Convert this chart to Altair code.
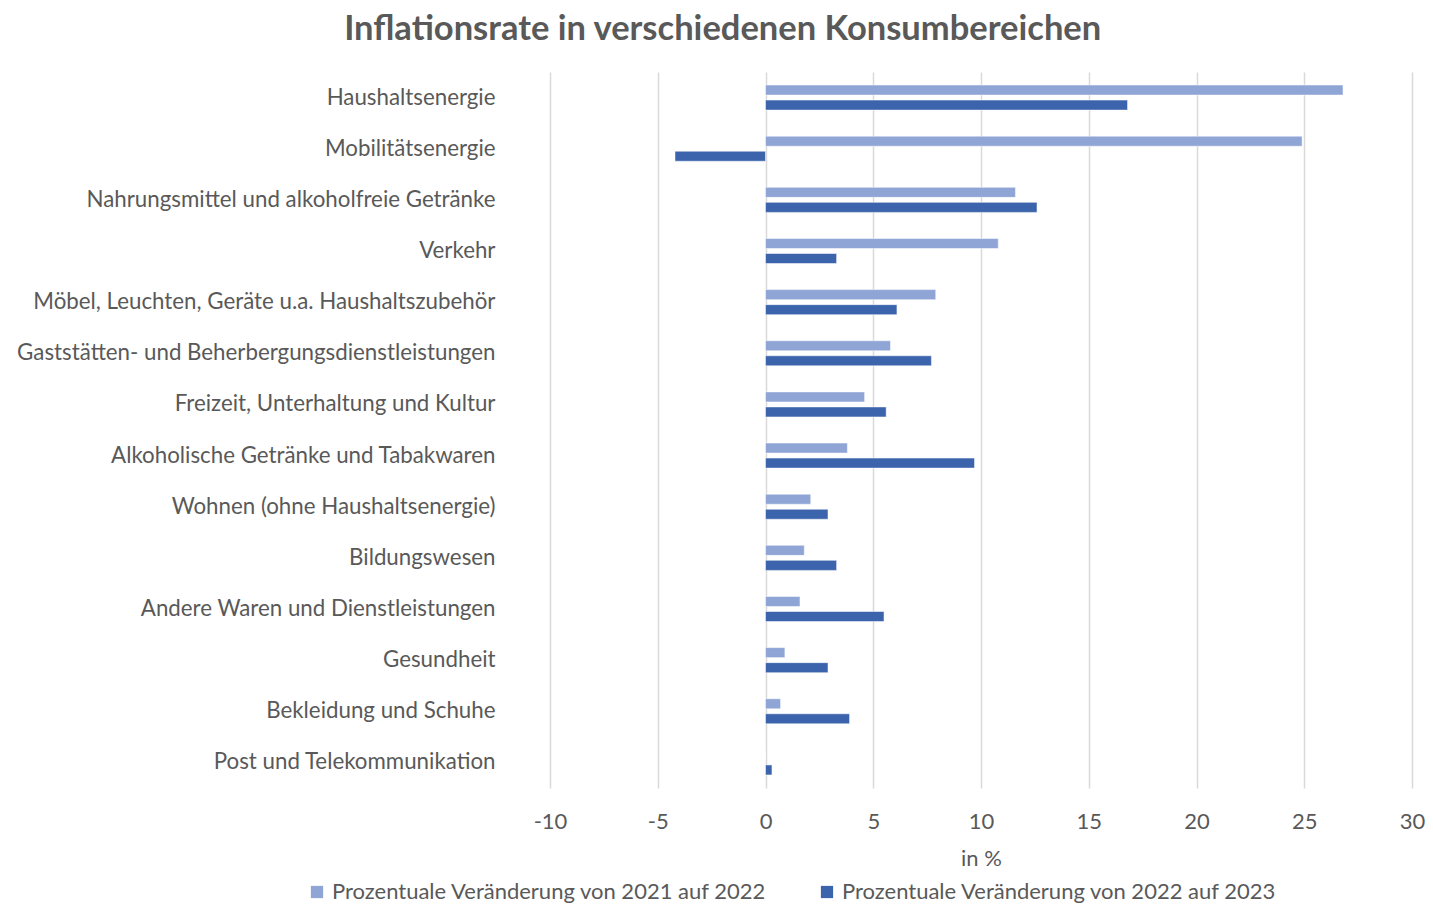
import altair as alt
import pandas as pd

categories = [
    "Haushaltsenergie",
    "Mobilitätsenergie",
    "Nahrungsmittel und alkoholfreie Getränke",
    "Verkehr",
    "Möbel, Leuchten, Geräte u.a. Haushaltszubehör",
    "Gaststätten- und Beherbergungsdienstleistungen",
    "Freizeit, Unterhaltung und Kultur",
    "Alkoholische Getränke und Tabakwaren",
    "Wohnen (ohne Haushaltsenergie)",
    "Bildungswesen",
    "Andere Waren und Dienstleistungen",
    "Gesundheit",
    "Bekleidung und Schuhe",
    "Post und Telekommunikation",
]
series_names = [
    "Prozentuale Veränderung von 2021 auf 2022",
    "Prozentuale Veränderung von 2022 auf 2023",
]
values_2021_2022 = [26.8, 24.9, 11.6, 10.8, 7.9, 5.8, 4.6, 3.8, 2.1, 1.8, 1.6, 0.9, 0.7, 0.0]
values_2022_2023 = [16.8, -4.2, 12.6, 3.3, 6.1, 7.7, 5.6, 9.7, 2.9, 3.3, 5.5, 2.9, 3.9, 0.3]
x_ticks = [-10, -5, 0, 5, 10, 15, 20, 25, 30]

rows = []
for c, a, b in zip(categories, values_2021_2022, values_2022_2023):
    rows.append({"Kategorie": c, "Serie": series_names[0], "Wert": a})
    rows.append({"Kategorie": c, "Serie": series_names[1], "Wert": b})
df = pd.DataFrame(rows)

FONT = "Lato"
GREY = "#595959"

chart = (
    alt.Chart(df)
    .mark_bar(stroke="white", strokeWidth=0.5)
    .encode(
        y=alt.Y(
            "Kategorie:N",
            sort=categories,
            title=None,
            scale=alt.Scale(paddingInner=0.51, paddingOuter=0.255),
            axis=alt.Axis(
                domain=False,
                ticks=False,
                labelPadding=55,
                labelFontSize=22.3,
                labelColor=GREY,
                labelFont=FONT,
                labelLimit=700,
            ),
        ),
        yOffset=alt.YOffset(
            "Serie:N",
            sort=series_names,
            scale=alt.Scale(paddingInner=1 / 3, paddingOuter=0),
        ),
        x=alt.X(
            "Wert:Q",
            title="in %",
            scale=alt.Scale(domain=[-10, 30], nice=False),
            axis=alt.Axis(
                values=x_ticks,
                labelExpr="datum.value",
                labelFlush=False,
                domain=False,
                ticks=False,
                grid=True,
                gridColor="#D9D9D9",
                gridWidth=1.5,
                labelPadding=23,
                labelFontSize=22,
                labelColor=GREY,
                labelFont=FONT,
                titleFontSize=22,
                titleFont=FONT,
                titleColor=GREY,
                titleFontWeight="normal",
                titlePadding=16,
            ),
        ),
        color=alt.Color(
            "Serie:N",
            sort=series_names,
            scale=alt.Scale(domain=series_names, range=["#8FA5D6", "#3C64AC"]),
            legend=alt.Legend(
                title=None,
                orient="none",
                direction="horizontal",
                legendX=-244,
                legendY=809,
                symbolType="square",
                symbolSize=150,
                symbolStrokeWidth=0,
                labelFontSize=22,
                labelFont=FONT,
                labelColor=GREY,
                labelLimit=700,
                columnPadding=49,
                labelOffset=4,
            ),
        ),
    )
    .properties(
        width=862,
        height=716,
        autosize=alt.AutoSizeParams(type="none"),
        padding={"left": 542, "top": 64, "right": 13, "bottom": 117},
        title=alt.TitleParams(
            "Inflationsrate in verschiedenen Konsumbereichen",
            fontSize=34.5,
            font=FONT,
            fontWeight="bold",
            color=GREY,
            anchor="middle",
            frame="bounds",
            offset=25,
            dx=2,
        ),
    )
    .configure_view(stroke=None)
)

chart.save("out.html", embed_options={"renderer": "svg", "actions": False})
